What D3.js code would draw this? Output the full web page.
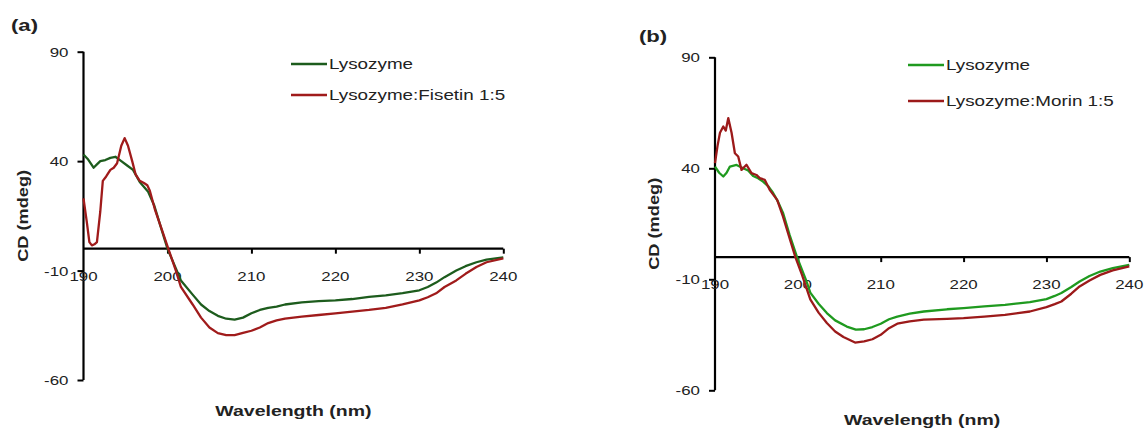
<!DOCTYPE html>
<html>
<head>
<meta charset="utf-8">
<script src="https://cdn.jsdelivr.net/npm/d3@7"></script>
<style>
  body { margin: 0; background: #fff; }
  text { font-family: 'Liberation Sans', Arial, sans-serif; fill: #222; }
</style>
</head>
<body>
<div id="chart"></div>
<script>
// wavelength (nm) and CD (mdeg)
var waveLysoA = [190, 190.5, 191.2, 191.6, 192, 192.6, 193.2, 193.8, 194.5, 195.2, 195.9, 196.7, 197.7, 198.4, 199.2, 200, 201, 201.6, 203, 204, 205, 206, 207, 208, 209, 210, 211, 212, 213, 214, 216, 218, 220, 222, 224, 226, 228, 230, 231, 232, 233, 234.4, 235.5, 236.8, 238, 240]
var lysoA = [43, 41, 37, 38.5, 40, 40.5, 41.5, 42, 40, 38, 36, 30.5, 26, 20, 10, 0, -9, -14.5, -21, -25.5, -28.5, -30.7, -32, -32.4, -31.5, -29.5, -28, -27, -26.5, -25.5, -24.5, -24, -23.6, -23, -22, -21.3, -20.3, -19, -17.5, -15.5, -13, -10, -8, -6.2, -5, -4]

var waveFisetin = [190, 190.4, 190.7, 191, 191.3, 191.6, 192, 192.3, 192.7, 193.2, 193.6, 194, 194.5, 194.9, 195.3, 195.8, 196.2, 196.7, 197.2, 197.6, 197.9, 198.5, 199.3, 200.1, 201, 201.6, 203, 204, 205, 206, 207, 208, 209, 210, 211, 212, 213, 214, 216, 218, 220, 222, 224, 226, 228, 230, 231, 232, 233, 234.4, 235.5, 236.8, 238, 240]
var fisetin = [23, 12, 3, 1.5, 2, 3, 17, 31, 33, 36, 37, 39, 47, 50.5, 47, 40, 34, 31, 30, 29, 26.5, 18, 9, 0, -10, -17.5, -25.5, -31.5, -36, -38.6, -39.5, -39.5, -38.5, -37.5, -36, -34, -32.8, -32, -31, -30.3, -29.6, -28.8, -28, -27, -25.5, -23.6, -22.2, -20.4, -17.5, -14.5, -11.5, -8.4, -6.2, -4.4]

var waveLysoB = [190, 190.5, 191, 191.4, 191.8, 192.6, 193.4, 194, 194.6, 195.2, 195.8, 196.4, 197, 197.6, 198.2, 199, 199.9, 201, 201.5, 202.5, 203.5, 204.5, 205.9, 207, 208, 209, 210, 211, 212, 213.5, 215.2, 218, 220, 222.5, 225, 228, 230, 231, 231.8, 233, 234, 235.2, 236.5, 238, 240]
var lysoB = [40.8, 38, 36.3, 38, 40.8, 41.5, 40, 39, 36.5, 35.5, 34, 32, 29, 25, 20, 10, 0, -10.5, -16, -21, -25.2, -28.5, -31.3, -32.7, -32.5, -31.5, -30, -28, -26.8, -25.5, -24.5, -23.5, -23, -22.2, -21.5, -20.3, -18.9, -17.5, -16.2, -13.5, -11, -8.5, -6.5, -5, -3.5]

var waveMorin = [190, 190.3, 190.6, 191, 191.3, 191.6, 192, 192.4, 192.8, 193.2, 193.8, 194.4, 195, 195.4, 196, 196.6, 197.5, 198.2, 199, 199.7, 200.5, 201.5, 202.5, 203.5, 204.5, 205.5, 206.9, 208, 209, 210, 211, 212, 213.5, 215.2, 218, 220, 222.5, 225, 228, 230, 231, 231.8, 233, 234, 235.2, 236.5, 238, 240]
var morin = [42.3, 50, 56, 58.8, 57, 62.6, 56, 46.8, 45.3, 39.3, 41.6, 37.8, 37, 35.6, 34.8, 30.3, 25.8, 18.3, 8.5, 0, -8, -19, -25, -29.7, -33.5, -36, -38.5, -38, -37, -35, -32, -30, -29, -28.2, -27.8, -27.5, -26.8, -26, -24.5, -22.5, -21.2, -20, -16.5, -13.2, -10.5, -8, -6, -4.2]

var xTicks = [190, 200, 210, 220, 230, 240]
var yTicks = [90, 40, -10, -60]

var SX = 1.3 // the source picture is stretched sideways

var svg = d3.select('#chart')
  .append('svg')
  .attr('width', 1145)
  .attr('height', 429)

function label (g, str, x, y, size, anchor, bold) {
  return g.append('text')
    .attr('transform', 'translate(' + x + ',' + y + ') scale(' + SX + ',1)')
    .attr('text-anchor', anchor)
    .attr('font-size', size)
    .attr('font-weight', bold ? 'bold' : 'normal')
    .text(str)
}

function panel (opt) {
  var g = svg.append('g')

  var x = d3.scaleLinear().domain([190, 240]).range(opt.xr)
  var y = d3.scaleLinear().domain([-60, 90]).range(opt.yr)

  // y axis on the left
  var yAxis = d3.axisLeft(y).tickValues(yTicks).tickSize(6).tickFormat('')
  g.append('g')
    .attr('transform', 'translate(' + opt.xr[0] + ',0)')
    .call(yAxis)
    .call(function (a) {
      a.select('.domain').attr('stroke-width', 2.2).attr('d', 'M0,' + y(90) + 'V' + y(-60))
      a.selectAll('.tick line').attr('stroke-width', 2)
    })
  yTicks.forEach(function (t) {
    label(g, t, opt.xr[0] - 15, y(t) + 5, 13, 'end', false)
  })

  // x axis through zero
  var xAxis = d3.axisBottom(x).tickValues(xTicks.slice(1)).tickSize(5).tickFormat('')
  g.append('g')
    .attr('transform', 'translate(0,' + y(0) + ')')
    .call(xAxis)
    .call(function (a) {
      a.select('.domain').attr('stroke-width', 2.2).attr('d', 'M' + opt.xr[0] + ',0H' + opt.xr[1])
      a.selectAll('.tick line').attr('stroke-width', 2)
    })
  xTicks.forEach(function (t) {
    label(g, t, x(t), y(0) + 32, 13, 'middle', false)
  })

  var line = d3.line()
    .x(function (d) { return x(d[0]) })
    .y(function (d) { return y(d[1]) })

  opt.series.forEach(function (s) {
    g.append('path')
      .datum(d3.zip(s.wave, s.values))
      .attr('fill', 'none')
      .attr('stroke', s.color)
      .attr('stroke-width', 2.3)
      .attr('stroke-linejoin', 'round')
      .attr('d', line)
  })

  // legend
  opt.series.forEach(function (s, i) {
    var ly = opt.legend[1] + i * opt.legend[2]
    g.append('line')
      .attr('x1', opt.legend[0]).attr('x2', opt.legend[0] + 36)
      .attr('y1', ly).attr('y2', ly)
      .attr('stroke', s.color)
      .attr('stroke-width', 2.5)
    label(g, s.name, opt.legend[0] + 38, ly + 5, 14.5, 'start', false)
  })

  // titles
  label(g, opt.tag, opt.tagPos[0], opt.tagPos[1], 17, 'start', true)
  label(g, 'Wavelength (nm)', (opt.xr[0] + opt.xr[1]) / 2, opt.xTitleY, 15, 'middle', true)
  g.append('text')
    .attr('transform', 'translate(' + (opt.xr[0] - 56) + ',' + ((opt.yr[0] + opt.yr[1]) / 2) + ') rotate(-90)')
    .attr('text-anchor', 'middle')
    .attr('font-size', 15)
    .attr('font-weight', 'bold')
    .attr('textLength', 92)
    .attr('lengthAdjust', 'spacingAndGlyphs')
    .text('CD (mdeg)')
}

panel({
  xr: [83.5, 503.3],
  yr: [380, 51.7],
  tag: '(a)',
  tagPos: [11, 31],
  xTitleY: 416,
  legend: [291, 64, 31],
  series: [
    { name: 'Lysozyme', wave: waveLysoA, values: lysoA, color: '#1d5c1d' },
    { name: 'Lysozyme:Fisetin 1:5', wave: waveFisetin, values: fisetin, color: '#a01b1b' }
  ]
})

panel({
  xr: [715, 1129.3],
  yr: [390.3, 57.3],
  tag: '(b)',
  tagPos: [639, 42],
  xTitleY: 425,
  legend: [908, 65, 36],
  series: [
    { name: 'Lysozyme', wave: waveLysoB, values: lysoB, color: '#1f9a1f' },
    { name: 'Lysozyme:Morin 1:5', wave: waveMorin, values: morin, color: '#9c1a1a' }
  ]
})
</script>
</body>
</html>
